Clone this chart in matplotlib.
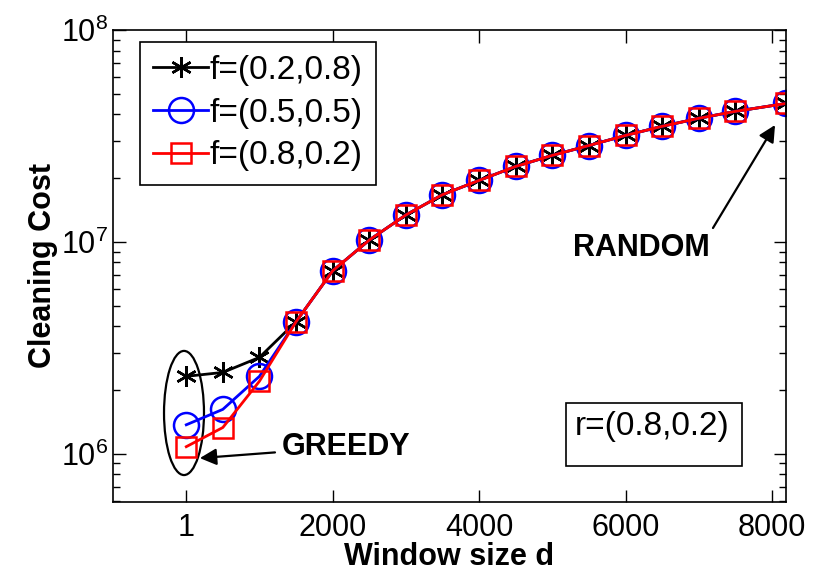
import matplotlib
matplotlib.use("Agg")
import matplotlib.pyplot as plt
from matplotlib.patches import Ellipse, Rectangle

plt.rcParams['font.family'] = ['Liberation Sans', 'DejaVu Sans']
plt.rcParams['mathtext.fontset'] = 'custom'
plt.rcParams['mathtext.rm'] = 'Liberation Sans'
plt.rcParams['mathtext.it'] = 'Liberation Sans'

# ---- data ----
d = [1, 500, 1000, 1500, 2000, 2500, 3000, 3500, 4000, 4500, 5000,
     5500, 6000, 6500, 7000, 7500, 8192]
cost_f28 = [2.32e6, 2.42e6, 2.85e6, 4.2e6, 7.3e6, 1.02e7, 1.34e7, 1.67e7, 1.95e7,
            2.27e7, 2.56e7, 2.85e7, 3.18e7, 3.51e7, 3.83e7, 4.13e7, 4.5e7]
cost_f55 = [1.37e6, 1.62e6, 2.32e6, 4.2e6, 7.3e6, 1.02e7, 1.34e7, 1.67e7, 1.95e7,
            2.27e7, 2.56e7, 2.85e7, 3.18e7, 3.51e7, 3.83e7, 4.13e7, 4.5e7]
cost_f82 = [1.08e6, 1.33e6, 2.2e6, 4.2e6, 7.3e6, 1.02e7, 1.34e7, 1.67e7, 1.95e7,
            2.27e7, 2.56e7, 2.85e7, 3.18e7, 3.51e7, 3.83e7, 4.13e7, 4.5e7]
labels = ['f=(0.2,0.8)', 'f=(0.5,0.5)', 'f=(0.8,0.2)']
xticks = [1, 2000, 4000, 6000, 8000]
xticklabels = ['1', '2000', '4000', '6000', '8000']
yticks = [1e6, 1e7, 1e8]
yticklabels = [r'$\mathregular{10^{6}}$', r'$\mathregular{10^{7}}$', r'$\mathregular{10^{8}}$']

fig = plt.figure(figsize=(8.19, 5.72), dpi=100)
ax = fig.add_axes([113/819, 1-502/572, 673/819, 472/572])

ax.plot(d, cost_f28, color='black', lw=2, marker=(6, 2, 0), ms=15, mew=1.8, label=labels[0])
ax.plot(d, cost_f55, color='blue', lw=2, marker='o', ms=18, mfc='none', mew=1.8, label=labels[1])
ax.plot(d, cost_f82, color='red', lw=2, marker='s', ms=15, mfc='none', mew=1.8, label=labels[2])

ax.set_yscale('log')
ax.set_xlim(-1000, 8192)
ax.set_ylim(5.92e5, 1e8)
ax.set_xticks(xticks)
ax.set_xticklabels(xticklabels)
ax.set_yticks(yticks)
ax.set_yticklabels(yticklabels)
ax.tick_params(axis='both', which='both', direction='in', top=True, right=True, labelsize=22)
ax.tick_params(axis='both', which='major', length=9, width=1)
ax.tick_params(axis='y', which='minor', length=5, width=1)
ax.tick_params(axis='x', which='major', pad=8)
for s in ax.spines.values():
    s.set_linewidth(1.2)

ax.set_xlabel('Window size d', fontsize=22, fontweight='bold', labelpad=-1)
ax.set_ylabel('Cleaning Cost', fontsize=22, fontweight='bold', labelpad=2)

leg = ax.legend(loc='upper left', bbox_to_anchor=(0.040, 0.975), fontsize=24,
                frameon=True, fancybox=False, edgecolor='black', framealpha=1,
                handlelength=1.65, handletextpad=0.05, labelspacing=0.35,
                borderpad=0.4, borderaxespad=0)
leg.get_frame().set_linewidth(1.2)

# ellipse around the GREEDY points
ax.add_patch(Ellipse((0.1055, 0.1886), 0.0594, 0.263, transform=ax.transAxes,
                     fill=False, edgecolor='black', lw=1.6))

ax.annotate('GREEDY', xy=(0.129, 0.093), xycoords='axes fraction',
            xytext=(0.251, 0.1165), textcoords='axes fraction',
            fontsize=22, fontweight='bold', ha='left', va='center',
            arrowprops=dict(arrowstyle='-|>', color='black', lw=1.6,
                            mutation_scale=25, shrinkA=3, shrinkB=0))

ax.annotate('', xy=(0.9837, 0.7987), xycoords='axes fraction',
            xytext=(0.8915, 0.5805), textcoords='axes fraction',
            arrowprops=dict(arrowstyle='-|>', color='black', lw=1.6,
                            mutation_scale=25, shrinkA=0, shrinkB=0))
ax.text(0.7845, 0.538, 'RANDOM', transform=ax.transAxes, fontsize=22,
        fontweight='bold', ha='center', va='center')

ax.add_patch(Rectangle((0.673, 0.0763), 0.2616, 0.1334, transform=ax.transAxes,
                       fill=False, edgecolor='black', lw=1.2))
ax.text(0.6865, 0.159, 'r=(0.8,0.2)', transform=ax.transAxes, fontsize=24,
        ha='left', va='center')

fig.savefig('out.png', dpi=100)
